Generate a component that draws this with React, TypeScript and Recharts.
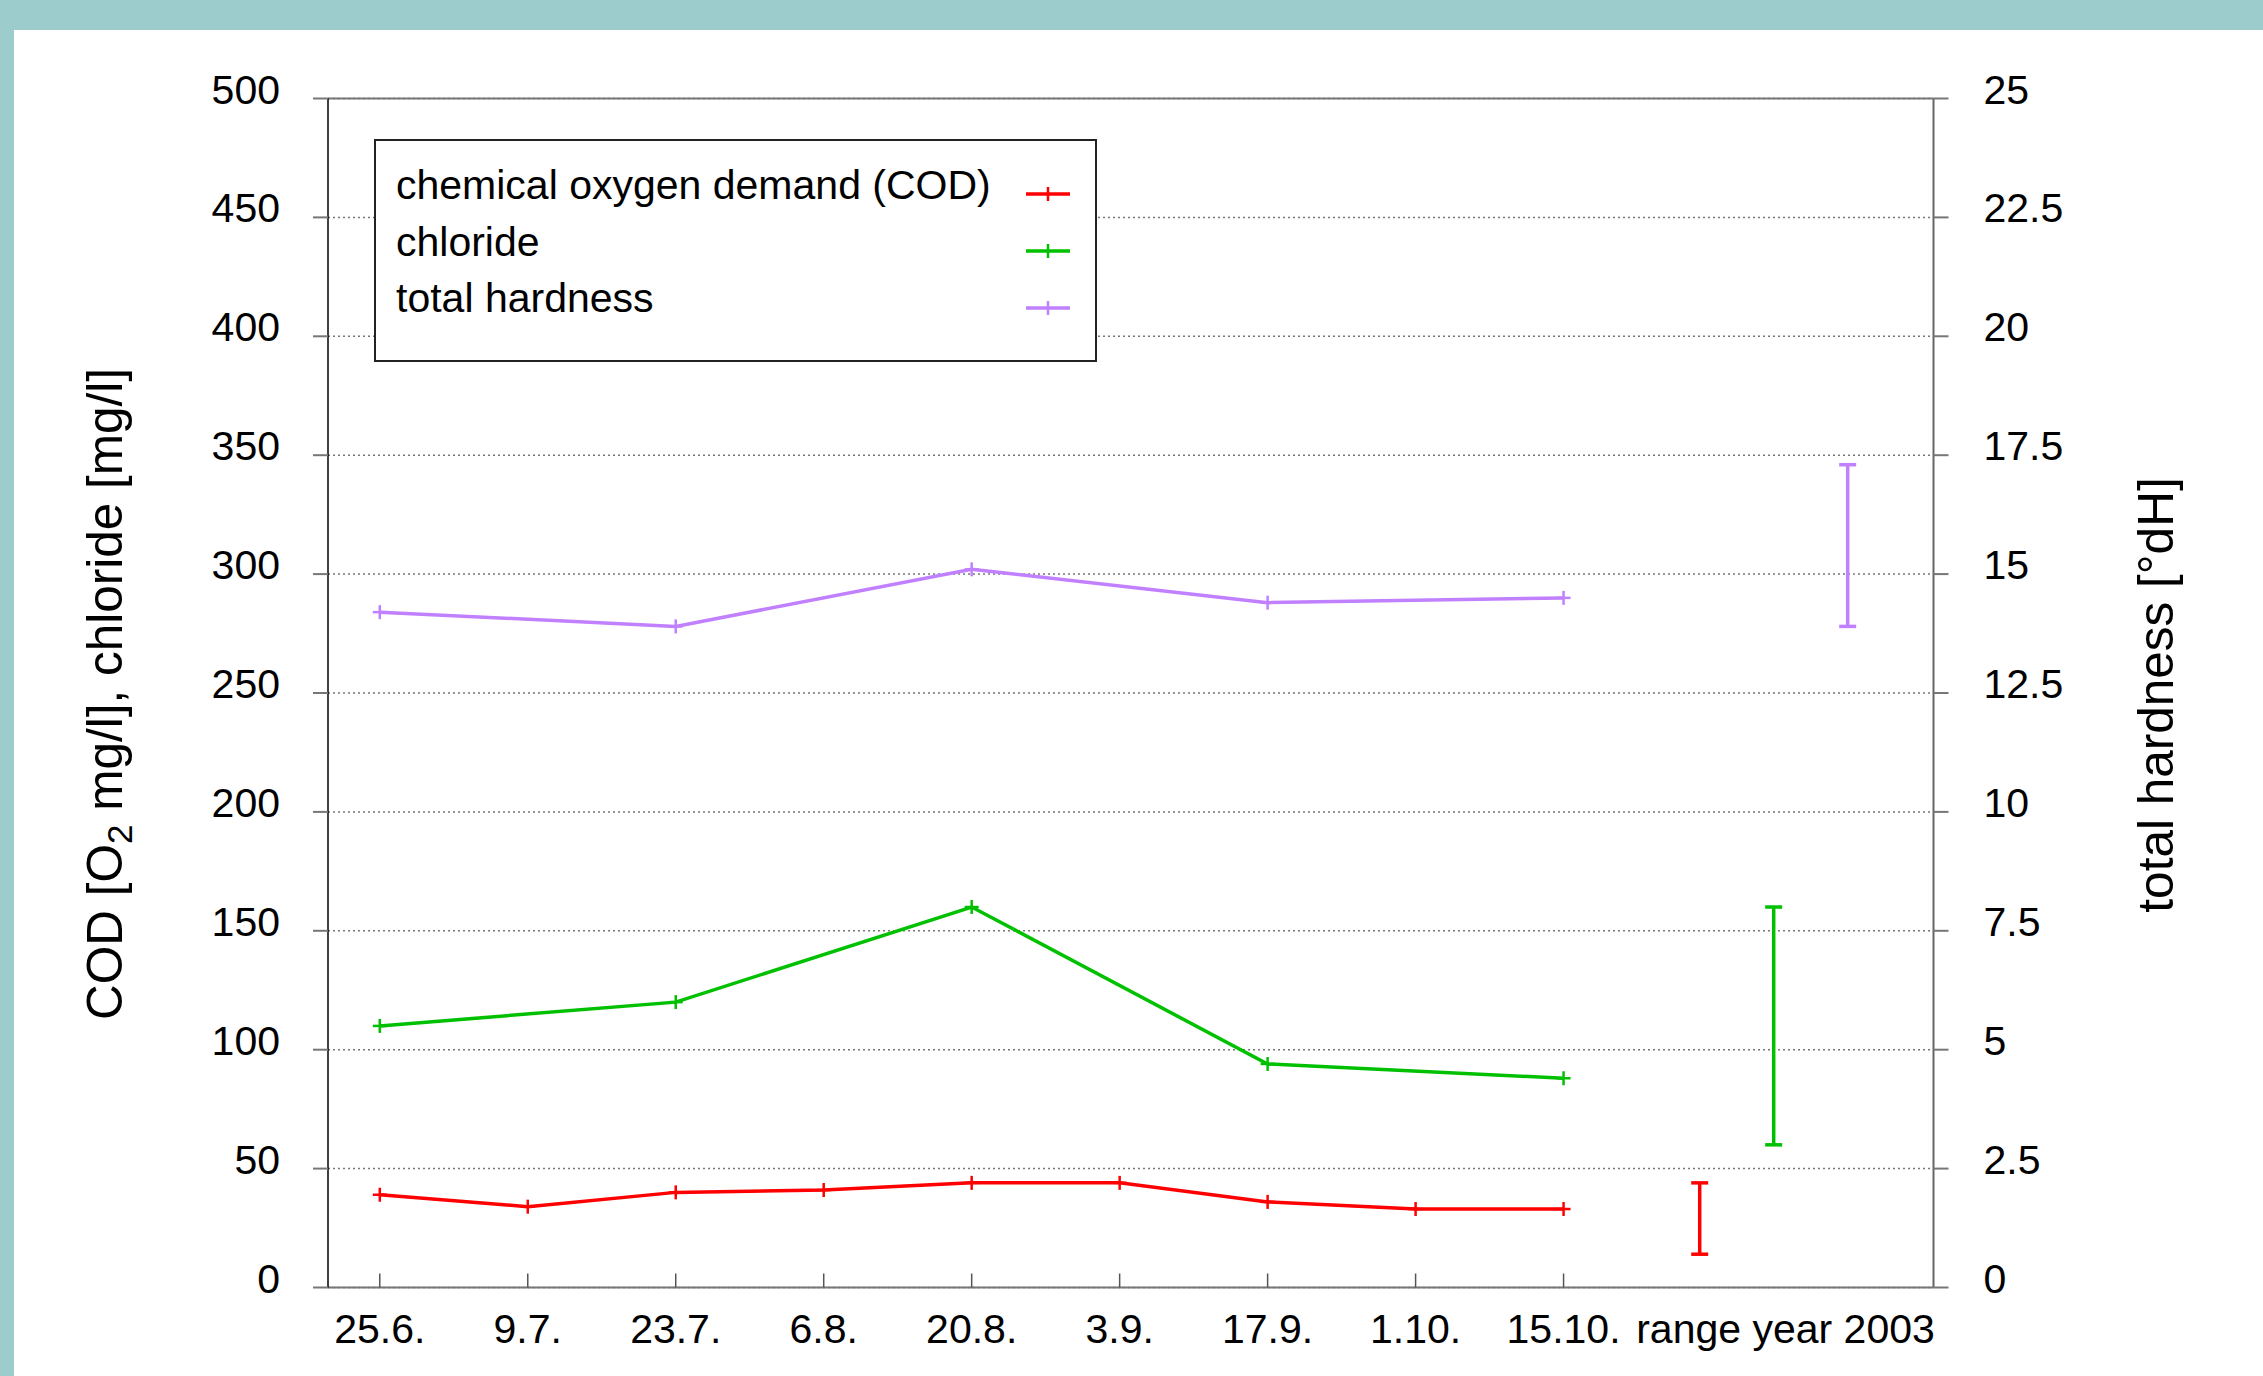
import {
  ComposedChart, Line, XAxis, YAxis, CartesianGrid, ReferenceLine, Legend, Label,
} from 'recharts'

const FONT = '"Liberation Sans", Arial, Helvetica, sans-serif'
const RED = '#ff0000'
const GREEN = '#00c000'
const PURPLE = '#c080ff'
const GRID = '#777777'
const FS = 41
const LW = 3.5

const dates = ['25.6.', '9.7.', '23.7.', '6.8.', '20.8.', '3.9.', '17.9.', '1.10.', '15.10.']
const rangeLabel = 'range year 2003'

const cod = [39, 34, 40, 41, 44, 44, 36, 33, 33]
const chlorideDates = [0, 2, 4, 6, 8]
const chloride = [110, 120, 160, 94, 88]
const hardness = [14.2, 13.9, 15.1, 14.4, 14.5]

// min / max of the whole year, drawn right of the last date
const codRange = [14, 44]
const chlorideRange = [60, 160]
const hardnessRange = [13.9, 17.3]
const rangeX = [8.92, 9.42, 9.92]

const leftTicks = [0, 50, 100, 150, 200, 250, 300, 350, 400, 450, 500]
const rightTicks = [0, 2.5, 5, 7.5, 10, 12.5, 15, 17.5, 20, 22.5, 25]
const xTicks = [0, 1, 2, 3, 4, 5, 6, 7, 8, 9.5]

const legendItems = [
  { name: 'chemical oxygen demand (COD)', color: RED },
  { name: 'chloride', color: GREEN },
  { name: 'total hardness', color: PURPLE },
]

const codData = cod.map((v, i) => ({ x: i, v }))
const chlorideData = chloride.map((v, i) => ({ x: chlorideDates[i], v }))
const hardnessData = hardness.map((v, i) => ({ x: chlorideDates[i], v }))
const codRangeData = codRange.map(v => ({ x: rangeX[0], v }))
const chlorideRangeData = chlorideRange.map(v => ({ x: rangeX[1], v }))
const hardnessRangeData = hardnessRange.map(v => ({ x: rangeX[2], v }))

const plusDot = (color: string) => (p: any) => {
  if (p.cx == null || p.cy == null) return <g key={p.key ?? p.index} />
  return (
    <g key={p.key ?? p.index} stroke={color} strokeWidth={2.5}>
      <line x1={p.cx - 7} y1={p.cy} x2={p.cx + 7} y2={p.cy} />
      <line x1={p.cx} y1={p.cy - 7} x2={p.cx} y2={p.cy + 7} />
    </g>
  )
}

const capDot = (color: string) => (p: any) => {
  if (p.cx == null || p.cy == null) return <g key={p.key ?? p.index} />
  return (
    <line key={p.key ?? p.index} x1={p.cx - 8.5} y1={p.cy} x2={p.cx + 8.5} y2={p.cy}
      stroke={color} strokeWidth={LW} />
  )
}

const LeftTick = ({ x, y, payload }: any) => (
  <text x={x} y={y + 5} textAnchor="end" fontSize={FS} fontFamily={FONT} fill="#000">
    {payload.value}
  </text>
)

const RightTick = ({ x, y, payload }: any) => (
  <text x={x} y={y + 5} textAnchor="start" fontSize={FS} fontFamily={FONT} fill="#000">
    {payload.value}
  </text>
)

const XTick = ({ x, y, payload }: any) => {
  const v = payload.value
  const isDate = Number.isInteger(v)
  return (
    <g>
      {isDate && <line x1={x} y1={y} x2={x} y2={y - 14} stroke="#555" strokeWidth={1.5} />}
      <text x={x} y={y + 55} textAnchor="middle" fontSize={FS} fontFamily={FONT} fill="#000">
        {isDate ? dates[v] : rangeLabel}
      </text>
    </g>
  )
}

const LegendBox = () => (
  <svg width={723} height={223} style={{ display: 'block' }}>
    <rect x={1} y={1} width={721} height={221} fill="#fff" stroke="#222" strokeWidth={2} />
    {legendItems.map((item, i) => (
      <g key={item.name}>
        <text x={22} y={60 + i * 56.5} fontSize={FS} fontFamily={FONT} fill="#000">{item.name}</text>
        <line x1={652} x2={696} y1={55 + i * 57} y2={55 + i * 57} stroke={item.color} strokeWidth={LW} />
        <line x1={674} x2={674} y1={48 + i * 57} y2={62 + i * 57} stroke={item.color} strokeWidth={2.5} />
      </g>
    ))}
  </svg>
)

export default function App() {
  return (
    <div style={{ position: 'absolute', left: 0, top: 0, width: 2263, height: 1376, background: '#9ccccc' }}>
      <div style={{ position: 'absolute', left: 14, top: 30, width: 2249, height: 1346, background: '#fff' }} />
      <div style={{ position: 'absolute', left: 0, top: 0 }}>
        <ComposedChart width={2263} height={1376} margin={{ top: 98.5, right: 0, bottom: 28.5, left: 0 }}>
          <CartesianGrid yAxisId="left" vertical={false} stroke={GRID} strokeDasharray="2 3" strokeWidth={1.5} />
          <XAxis
            dataKey="x"
            type="number"
            domain={[-0.35, 10.5]}
            ticks={xTicks}
            interval={0}
            height={60}
            tickSize={0}
            tickMargin={0}
            tickLine={false}
            axisLine={{ stroke: GRID, strokeWidth: 2 }}
            tick={<XTick />}
          />
          <YAxis
            yAxisId="left"
            domain={[0, 500]}
            ticks={leftTicks}
            interval={0}
            width={328}
            tickSize={15}
            tickMargin={33}
            tickLine={{ stroke: GRID, strokeWidth: 2 }}
            axisLine={{ stroke: '#000', strokeWidth: 1.5 }}
            tick={<LeftTick />}
          >
            <Label
              content={() => (
                <text x={122} y={694} transform="rotate(-90 122 694)" textAnchor="middle"
                  fontSize={49.5} fontFamily={FONT} fill="#000">
                  COD [O<tspan dy={10} fontSize={35}>2</tspan>
                  <tspan dy={-10}> mg/l], chloride [mg/l]</tspan>
                </text>
              )}
            />
          </YAxis>
          <YAxis
            yAxisId="right"
            orientation="right"
            domain={[0, 25]}
            ticks={rightTicks}
            interval={0}
            width={329.5}
            tickSize={15}
            tickMargin={35}
            tickLine={{ stroke: GRID, strokeWidth: 2 }}
            axisLine={{ stroke: '#666', strokeWidth: 2 }}
            tick={<RightTick />}
          >
            <Label
              content={() => (
                <text x={2173} y={695} transform="rotate(-90 2173 695)" textAnchor="middle"
                  fontSize={49.5} fontFamily={FONT} fill="#000">
                  total hardness [°dH]
                </text>
              )}
            />
          </YAxis>
          <ReferenceLine yAxisId="left" y={500} stroke={GRID} strokeWidth={2} />
          <Legend
            layout="horizontal"
            verticalAlign="middle"
            align="center"
            content={<LegendBox />}
            wrapperStyle={{ left: 374, top: 139, width: 723, height: 223 }}
          />
          <Line data={codData} dataKey="v" yAxisId="left" stroke={RED} strokeWidth={LW}
            dot={plusDot(RED)} activeDot={false} isAnimationActive={false} legendType="none" />
          <Line data={chlorideData} dataKey="v" yAxisId="left" stroke={GREEN} strokeWidth={LW}
            dot={plusDot(GREEN)} activeDot={false} isAnimationActive={false} legendType="none" />
          <Line data={hardnessData} dataKey="v" yAxisId="right" stroke={PURPLE} strokeWidth={LW}
            dot={plusDot(PURPLE)} activeDot={false} isAnimationActive={false} legendType="none" />
          <Line data={codRangeData} dataKey="v" yAxisId="left" stroke={RED} strokeWidth={LW}
            dot={capDot(RED)} activeDot={false} isAnimationActive={false} legendType="none" />
          <Line data={chlorideRangeData} dataKey="v" yAxisId="left" stroke={GREEN} strokeWidth={LW}
            dot={capDot(GREEN)} activeDot={false} isAnimationActive={false} legendType="none" />
          <Line data={hardnessRangeData} dataKey="v" yAxisId="right" stroke={PURPLE} strokeWidth={LW}
            dot={capDot(PURPLE)} activeDot={false} isAnimationActive={false} legendType="none" />
        </ComposedChart>
      </div>
    </div>
  )
}
